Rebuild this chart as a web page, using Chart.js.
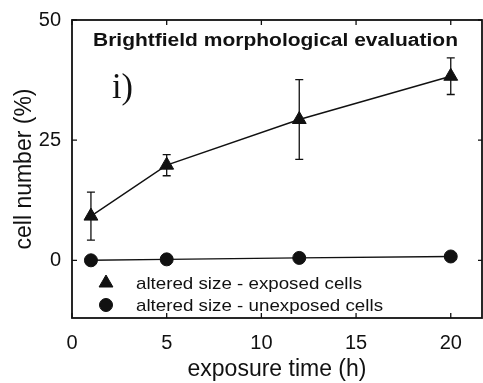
<!DOCTYPE html>
<html><head><meta charset="utf-8">
<script src="https://cdn.jsdelivr.net/npm/chart.js@4"></script>
<style>html,body{margin:0;padding:0;background:#fff;overflow:hidden}canvas{display:block}</style>
</head><body><canvas id="c" width="483" height="383"></canvas>
<script>
const exposureTimes = [1, 5, 12, 20];
const exposedValues = [9.2, 19.8, 29.3, 38.3];
const exposedErrors = [5.0, 2.2, 8.3, 3.8];
const unexposedValues = [0.0, 0.2, 0.5, 0.8];
const xTickValues = [0, 5, 10, 15, 20];
const yTickValues = [0, 25, 50];
const seriesLabels = ['altered size - exposed cells', 'altered size - unexposed cells'];
const chartTitle = 'Brightfield morphological evaluation';
const panelLabel = 'i)';

const INK = '#111';
const FONT = '"Liberation Sans", Arial, sans-serif';

function stretchedText(ctx, text, x, y, targetWidth, align) {
  const w = ctx.measureText(text).width;
  const sx = targetWidth / w;
  ctx.save();
  ctx.translate(x, y);
  ctx.scale(sx, 1);
  ctx.textAlign = align;
  ctx.fillText(text, 0, 0);
  ctx.restore();
}

const decor = {
  id: 'decor',
  afterDatasetsDraw(chart) {
    const ctx = chart.ctx, a = chart.chartArea;
    const xs = chart.scales.x, ys = chart.scales.y;
    ctx.save();
    // error bars
    ctx.strokeStyle = INK; ctx.lineWidth = 1.3;
    exposureTimes.forEach((t, i) => {
      const px = xs.getPixelForValue(t);
      const top = ys.getPixelForValue(exposedValues[i] + exposedErrors[i]);
      const bot = ys.getPixelForValue(exposedValues[i] - exposedErrors[i]);
      ctx.beginPath();
      ctx.moveTo(px, top); ctx.lineTo(px, bot);
      ctx.moveTo(px - 4, top); ctx.lineTo(px + 4, top);
      ctx.moveTo(px - 4, bot); ctx.lineTo(px + 4, bot);
      ctx.stroke();
    });
    // frame
    ctx.lineWidth = 1.8;
    ctx.strokeRect(a.left, a.top, a.right - a.left, a.bottom - a.top);
    // inward ticks
    ctx.lineWidth = 1.3;
    xTickValues.forEach(v => {
      const px = xs.getPixelForValue(v);
      ctx.beginPath();
      ctx.moveTo(px, a.top); ctx.lineTo(px, a.top + 5);
      ctx.moveTo(px, a.bottom); ctx.lineTo(px, a.bottom - 5);
      ctx.stroke();
    });
    yTickValues.forEach(v => {
      const py = ys.getPixelForValue(v);
      ctx.beginPath();
      ctx.moveTo(a.left, py); ctx.lineTo(a.left + 5, py);
      ctx.moveTo(a.right, py); ctx.lineTo(a.right - 4, py);
      ctx.stroke();
    });
    // title
    ctx.fillStyle = INK;
    ctx.font = 'bold 18px ' + FONT;
    ctx.textBaseline = 'middle';
    stretchedText(ctx, chartTitle, 93, 41, 365, 'left');
    // panel label
    ctx.font = '35px "Liberation Serif", "Times New Roman", serif';
    ctx.textBaseline = 'alphabetic';
    stretchedText(ctx, panelLabel, 112, 98, 21, 'left');
    // legend
    ctx.font = '17px ' + FONT;
    ctx.textBaseline = 'middle';
    const ly = [283, 305];
    const lw = [226, 247];
    chart.data.datasets.forEach((ds, i) => {
      ctx.fillStyle = INK; ctx.strokeStyle = INK; ctx.lineWidth = 1;
      Chart.helpers.drawPoint(ctx, {pointStyle: ds.pointStyle, radius: ds.pointRadius, rotation: 0, borderWidth: 1}, 106, ly[i]);
      stretchedText(ctx, ds.label, 136, ly[i] + 1, lw[i], 'left');
    });
    ctx.restore();
  }
};

new Chart(document.getElementById('c'), {
  type: 'scatter',
  data: {
    datasets: [
      { label: seriesLabels[0], data: exposureTimes.map((t, i) => ({x: t, y: exposedValues[i]})),
        showLine: true, borderColor: INK, borderWidth: 1.4, backgroundColor: INK,
        pointStyle: 'triangle', pointRadius: 8, pointBorderWidth: 1, pointBorderColor: INK },
      { label: seriesLabels[1], data: exposureTimes.map((t, i) => ({x: t, y: unexposedValues[i]})),
        showLine: true, borderColor: INK, borderWidth: 1.4, backgroundColor: INK,
        pointStyle: 'circle', pointRadius: 6.5, pointBorderWidth: 1, pointBorderColor: INK }
    ]
  },
  options: {
    responsive: false, animation: false, devicePixelRatio: 1,
    layout: { autoPadding: false, padding: { top: 20, right: 1, left: 0, bottom: 0 } },
    plugins: { legend: { display: false }, tooltip: { enabled: false } },
    scales: {
      x: {
        type: 'linear', min: 0, max: 21.65,
        afterBuildTicks: s => { s.ticks = xTickValues.map(v => ({value: v})); },
        afterFit: s => { s.height = 65; s.paddingRight = 0; s.paddingLeft = 0; },
        grid: { display: false, drawTicks: false },
        border: { display: false },
        ticks: { color: INK, font: { family: FONT, size: 20 }, padding: 13, maxRotation: 0 },
        title: { display: true, text: 'exposure time (h)', color: INK, font: { family: FONT, size: 23 }, padding: { top: 0, bottom: 0 } }
      },
      y: {
        type: 'linear', min: -12, max: 50,
        afterBuildTicks: s => { s.ticks = yTickValues.map(v => ({value: v})); },
        afterFit: s => { s.width = 72; s.paddingTop = 0; s.paddingBottom = 0; },
        grid: { display: false, drawTicks: false },
        border: { display: false },
        ticks: { color: INK, font: { family: FONT, size: 20 }, padding: 11 },
        title: { display: true, text: 'cell number (%)', color: INK, font: { family: FONT, size: 23 }, padding: { top: 11, bottom: 0 } }
      }
    }
  },
  plugins: [decor]
});
</script>
</body></html>
